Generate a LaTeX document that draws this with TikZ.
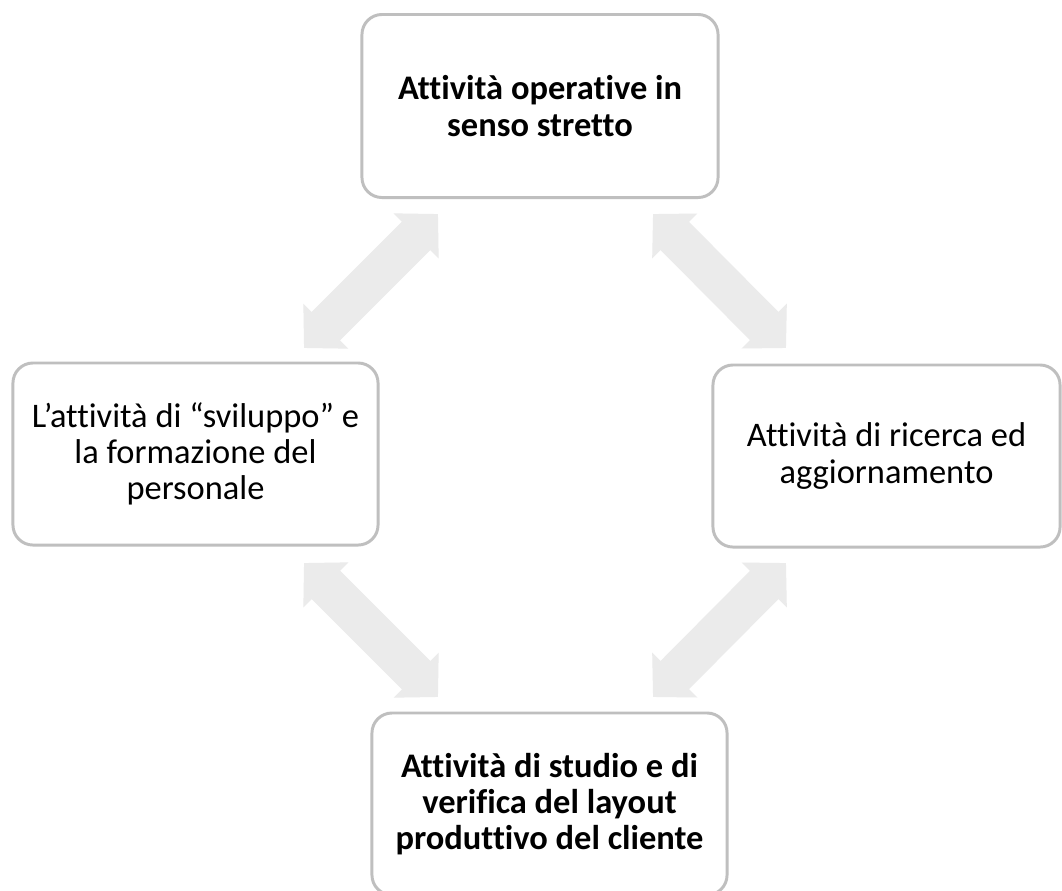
\documentclass[tikz,border=0pt]{standalone}
\usepackage{fontspec}
\setmainfont[Ligatures=NoCommon]{Carlito}
\usetikzlibrary{arrows.meta}
\definecolor{boxline}{RGB}{191,191,191}
\definecolor{arrowfill}{RGB}{235,235,235}
\tikzset{
  box/.style={draw=boxline, line width=2.1pt, rounded corners=0.5cm, fill=white,
    minimum height=4.55cm, inner sep=0pt, align=center,
    font=\fontsize{24.5}{25.8}\selectfont},
  bigarrow/.style={draw=arrowfill, line width=28.5pt,
    {Triangle[length=22pt,width=44pt]}-{Triangle[length=22pt,width=44pt]}}
}
\begin{document}
\begin{tikzpicture}[x=0.025cm,y=-0.025cm]
      \clip (0,0) rectangle (1062,890);
      \fill[white] (0,0) rectangle (1062,890);
      \node[box, minimum width=8.9cm, minimum height=4.575cm] (top) at (540,106)
        {\bfseries Attività operative in\\\bfseries senso stretto};
      \node[box, minimum width=9.125cm] (left) at (195.5,454)
        {L’attività di “sviluppo” e\\la formazione del\\personale};
      \node[box, minimum width=8.675cm] (right) at (886.5,456)
        {Attività di ricerca ed\\aggiornamento};
      \node[box, minimum width=8.875cm] (bottom) at (549.5,804)
        {\bfseries Attività di studio e di\\\bfseries verifica del layout\\\bfseries produttivo del cliente};
      \coordinate (tl1) at (438,214);
      \coordinate (tl2) at (304,348);
      \coordinate (tr1) at (653,214);
      \coordinate (tr2) at (786,348);
      \coordinate (bl1) at (304,563);
      \coordinate (bl2) at (438,697);
      \coordinate (br1) at (786,563);
      \coordinate (br2) at (653,697);
      \begin{scope}[bigarrow]
        \draw (tl1) to (tl2);
        \draw (tr1) to (tr2);
        \draw (bl1) to (bl2);
        \draw (br1) to (br2);
      \end{scope}
    \end{tikzpicture}
\end{document}
